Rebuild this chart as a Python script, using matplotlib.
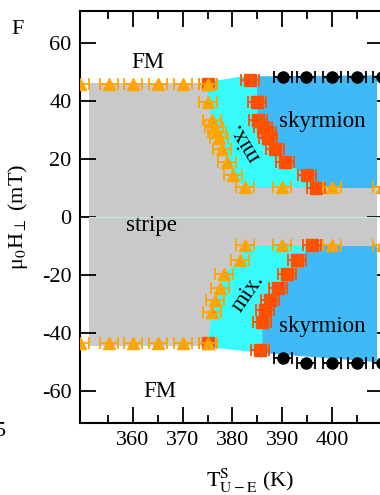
import numpy as np
import matplotlib

matplotlib.use("Agg")
import matplotlib.pyplot as plt
from matplotlib.ticker import FixedLocator, MultipleLocator

plt.rcParams.update({
    "font.family": ["Liberation Serif", "DejaVu Serif"],
    "mathtext.fontset": "stix",
    "axes.unicode_minus": False,
    "font.size": 16,
})

# --- data (T in K, field in mT) ---
tri_up_T = [349.5, 355.2, 360, 365, 370, 375, 375.1, 375.9, 376.3, 376.9, 377.2,
            377.9, 378.9, 380.1, 382.5, 390, 400, 410]
tri_up_H = [45.9, 45.9, 45.9, 45.9, 45.9, 45.9, 39.7, 33.4, 31.0, 29.3, 27.2,
            23.4, 19.0, 14.5, 10.3, 10.3, 10.3, 10.3]
tri_dn_T = [349.5, 355.2, 360, 365, 370, 375, 375.9, 376.5, 377.5, 378.3, 381.5,
            382.5, 390, 400, 410]
tri_dn_H = [-43.4, -43.4, -43.4, -43.4, -43.4, -43.4, -32.6, -28.6, -24.3, -19.7,
            -14.8, -9.7, -9.7, -9.7, -9.7]

sq_up_T = [375, 383.5, 384.9, 385.1, 386.1, 386.9, 387.1, 388.5, 390.5, 394.9, 396.7]
sq_up_H = [45.9, 47.3, 39.7, 33.4, 31.0, 29.3, 27.2, 23.4, 19.0, 14.5, 10.0]
sq_dn_T = [375, 385.5, 385.9, 386.5, 387.5, 389.1, 390.9, 392.9, 396.0]
sq_dn_H = [-43.4, -45.9, -36.2, -32.1, -28.6, -24.5, -19.7, -14.8, -9.7]

circ_up_T = [390.1, 394.7, 400, 405, 410]
circ_up_H = [48.3, 48.3, 48.3, 48.3, 48.3]
circ_dn_T = [390.1, 394.7, 400, 405, 410]
circ_dn_H = [-48.6, -50.3, -50.3, -50.3, -50.3]
T_ERR = 1.8

x_ticks = [360, 370, 380, 390, 400]
x_minor = [355, 365, 375, 385, 395, 405]

# phase regions (polygon outlines)
stripe_T = [351.2, 409, 409, 351.2]
stripe_H = [-44.5, -44.5, 46.2, 46.2]
mix_up_T = [375, 382, 385, 384.9, 385.1, 386.1, 386.9, 387.1, 388.5, 390.5, 394.9,
            396.7, 382.5, 380.1, 378.9, 377.9, 377.2, 376.9, 376.3, 375.9, 375.1]
mix_up_H = [46.5, 48.5, 48.5, 39.7, 33.4, 31.0, 29.3, 27.2, 23.4, 19.0, 14.5,
            10.0, 10.0, 14.5, 19.0, 23.4, 27.2, 29.3, 31.0, 33.4, 39.7]
sky_up_T = [385, 409, 409, 396.7, 394.9, 390.5, 388.5, 387.1, 386.9, 386.1, 385.1, 384.9]
sky_up_H = [48.5, 48.8, 10.0, 10.0, 14.5, 19.0, 23.4, 27.2, 29.3, 31.0, 33.4, 39.7]
mix_dn_T = [375, 386, 386, 386.5, 387.5, 389.1, 390.9, 392.9, 396, 382.5, 381.5,
            378.3, 377.5, 376.5, 375.9]
mix_dn_H = [-44.8, -46.9, -36.2, -32.1, -28.6, -24.5, -19.7, -14.8, -10.0, -10.0,
            -14.8, -19.7, -24.3, -28.6, -32.6]
sky_dn_T = [386, 409, 409, 396, 392.9, 390.9, 389.1, 387.5, 386.5, 386]
sky_dn_H = [-46.9, -50.0, -10.0, -10.0, -14.8, -19.7, -24.5, -28.6, -32.1, -36.2]

GRAY = "#c9c9c9"
CYAN = "#38fcfc"
BLUE = "#40b9f7"
ORANGE = "#ffa500"
RED = "#ff5000"

fig = plt.figure(figsize=(3.8, 4.95), dpi=100)
ax = fig.add_axes([80 / 380, 72 / 495, 303 / 380, 412 / 495])

ax.fill(stripe_T, stripe_H, color=GRAY, lw=0, zorder=1)
ax.fill(mix_up_T, mix_up_H, color=CYAN, lw=0, zorder=2)
ax.fill(mix_dn_T, mix_dn_H, color=CYAN, lw=0, zorder=2)
ax.fill(sky_up_T, sky_up_H, color=BLUE, lw=0, zorder=3)
ax.fill(sky_dn_T, sky_dn_H, color=BLUE, lw=0, zorder=3)
ax.axhline(0, xmin=0.03, color="#d2e2e2", lw=0.8, zorder=3)

eb = dict(xerr=T_ERR, ls="none", elinewidth=1.3, capsize=4.3, capthick=1.3)
for T, H in [(sq_up_T, sq_up_H), (sq_dn_T, sq_dn_H)]:
    ax.errorbar(T, H, marker="s", ms=8.5, color=RED, zorder=4, **eb)
for T, H in [(tri_up_T, tri_up_H), (tri_dn_T, tri_dn_H)]:
    ax.errorbar(T, H, marker="^", ms=9, color=ORANGE, zorder=5, **eb)
for T, H in [(circ_up_T, circ_up_H), (circ_dn_T, circ_dn_H)]:
    ax.errorbar(T, H, marker="o", ms=8, color="black", zorder=6, **eb)

ax.text(363, 53.4, "FM", ha="center", va="center", fontsize=16.5)
ax.text(365.4, -60.3, "FM", ha="center", va="center", fontsize=16.5)
ax.text(363.8, -2.8, "stripe", ha="center", va="center", fontsize=16.5, zorder=7)
ax.text(398, 32.8, "skyrmion", ha="center", va="center", fontsize=16.5, zorder=7)
ax.text(398, -37.9, "skyrmion", ha="center", va="center", fontsize=16.5, zorder=7)
ax.text(382.5, 25.9, "mix.", ha="center", va="center", rotation=121,
        fontsize=16.5, zorder=7)
ax.text(383.1, -26.2, "mix.", ha="center", va="center", rotation=55,
        fontsize=16.5, zorder=7)

ax.set_xlim(349.4, 410.2)
ax.set_ylim(-71, 71)
ax.xaxis.set_major_locator(FixedLocator(x_ticks))
ax.xaxis.set_minor_locator(FixedLocator(x_minor))
ax.yaxis.set_major_locator(MultipleLocator(20))
ax.tick_params(which="both", direction="in", top=True, right=True, width=1.3,
               labelsize=16)
ax.tick_params(which="major", length=11.5, pad=6)
ax.tick_params(which="minor", length=6)
for s in ax.spines.values():
    s.set_linewidth(1.5)

ax.set_xlabel(r"$\mathrm{T^{S}_{U-E}}$ (K)", fontsize=16)
ax.xaxis.set_label_coords(0.561, -0.107)
ax.set_ylabel(r"μ$_0$H$_\perp$ (mT)", fontsize=16)
ax.yaxis.set_label_coords(-0.165, 0.5)

fig.text(18 / 380, 1 - 30 / 495, "F", ha="center", va="center", fontsize=16)
fig.text(0, 1 - 432 / 495, "5", ha="center", va="center", fontsize=16)

fig.savefig("out.png", dpi=100)
